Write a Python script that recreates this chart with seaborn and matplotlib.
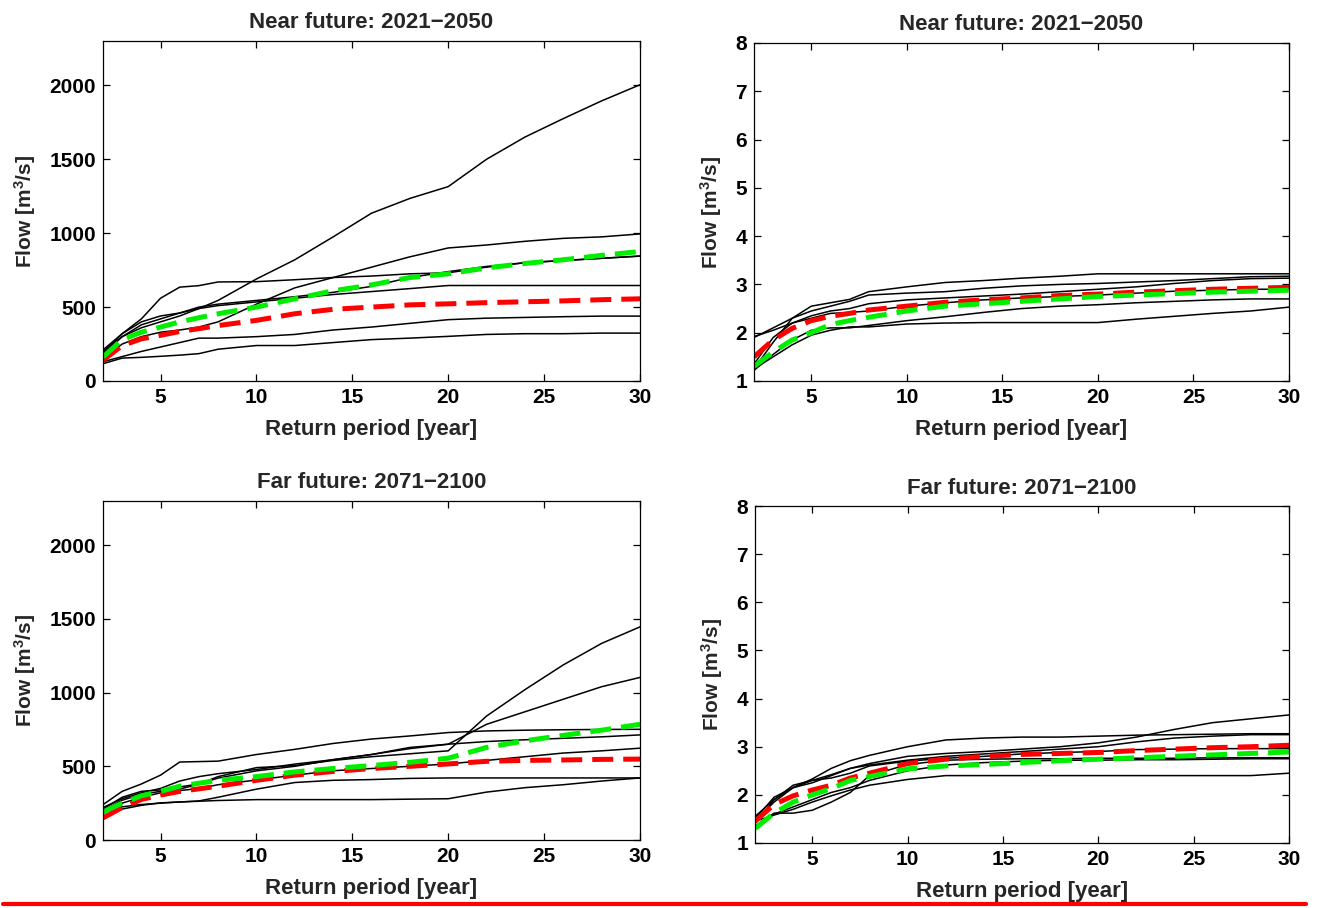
import numpy as np
import pandas as pd
import matplotlib
matplotlib.use("Agg")
import matplotlib.pyplot as plt
from matplotlib import font_manager
from matplotlib.lines import Line2D
import seaborn as sns

sns.set_theme(style="white")
_names = {f.name for f in font_manager.fontManager.ttflist}
_fam = "Liberation Sans Narrow" if "Liberation Sans Narrow" in _names else "Liberation Sans"
plt.rcParams["font.family"] = [_fam, "DejaVu Sans"]
plt.rcParams["mathtext.fontset"] = "custom"
plt.rcParams["mathtext.rm"] = _fam + ":bold"
plt.rcParams["mathtext.default"] = "rm"

# ---------------- data ----------------
return_period = [2, 3, 4, 5, 6, 7, 8, 10, 12, 14, 16, 18, 20, 22, 24, 26, 28, 30]

titles = ["Near future: 2021\u22122050", "Near future: 2021\u22122050",
          "Far future: 2071\u22122100", "Far future: 2071\u22122100"]
xlabel = "Return period [year]"
ylabel = "Flow [m$^3$/s]"

# Panel 1: near future, large catchment
near_large_members = [
    [200, 300, 360, 400, 440, 490, 545, 690, 820, 975, 1135, 1235, 1315, 1500, 1650, 1775, 1895, 2004],
    [150, 250, 300, 330, 345, 365, 400, 520, 630, 700, 770, 840, 900, 920, 945, 965, 975, 995],
    [210, 320, 420, 560, 635, 645, 670, 672, 685, 700, 710, 725, 732, 770, 800, 815, 830, 845],
    [190, 320, 400, 440, 460, 500, 520, 545, 570, 600, 640, 700, 740, 775, 800, 815, 830, 845],
    [180, 300, 380, 420, 460, 490, 510, 535, 560, 585, 605, 625, 646, 646, 646, 646, 646, 646],
    [130, 165, 200, 230, 260, 290, 290, 300, 315, 345, 365, 390, 415, 425, 430, 435, 439, 439],
    [117, 155, 160, 167, 175, 185, 215, 240, 240, 260, 280, 290, 302, 315, 320, 320, 324, 324],
]
near_large_red = [140, 240, 285, 309, 335, 354, 375, 410, 455, 485, 500, 515, 522, 530, 536, 542, 550, 556]
near_large_green = [162, 280, 330, 365, 400, 428, 455, 500, 556, 610, 650, 700, 725, 765, 795, 820, 850, 876]

# Panel 2: near future, small catchment
near_small_members = [
    [1.25, 1.80, 2.30, 2.55, 2.62, 2.69, 2.85, 2.95, 3.04, 3.08, 3.13, 3.17, 3.22, 3.22, 3.22, 3.22, 3.22, 3.22],
    [1.90, 2.10, 2.30, 2.45, 2.55, 2.65, 2.78, 2.82, 2.85, 2.92, 2.97, 3.00, 3.02, 3.05, 3.08, 3.12, 3.16, 3.17],
    [1.92, 2.05, 2.20, 2.35, 2.45, 2.50, 2.60, 2.68, 2.72, 2.76, 2.80, 2.85, 2.90, 2.95, 3.02, 3.08, 3.12, 3.13],
    [1.35, 1.90, 2.20, 2.30, 2.40, 2.42, 2.45, 2.55, 2.62, 2.68, 2.72, 2.75, 2.78, 2.82, 2.86, 2.88, 2.90, 2.90],
    [1.22, 1.55, 1.85, 2.05, 2.10, 2.10, 2.15, 2.25, 2.33, 2.42, 2.50, 2.55, 2.58, 2.62, 2.65, 2.68, 2.70, 2.70],
    [1.25, 1.50, 1.75, 1.95, 2.05, 2.12, 2.12, 2.18, 2.20, 2.21, 2.21, 2.21, 2.21, 2.28, 2.34, 2.40, 2.45, 2.53],
]
near_small_red = [1.50, 1.85, 2.09, 2.25, 2.34, 2.40, 2.47, 2.55, 2.63, 2.68, 2.72, 2.77, 2.80, 2.84, 2.87, 2.90, 2.92, 2.94]
near_small_green = [1.30, 1.60, 1.85, 2.00, 2.17, 2.25, 2.32, 2.45, 2.55, 2.60, 2.65, 2.70, 2.75, 2.78, 2.81, 2.84, 2.86, 2.88]

# Panel 3: far future, large catchment
far_large_members = [
    [210, 290, 330, 340, 345, 380, 430, 491, 505, 540, 565, 585, 605, 841, 1020, 1188, 1334, 1446],
    [220, 280, 320, 350, 400, 430, 450, 478, 515, 545, 580, 628, 650, 785, 870, 955, 1040, 1103],
    [240, 330, 380, 440, 529, 532, 535, 580, 615, 655, 685, 706, 729, 740, 745, 748, 750, 751],
    [200, 270, 310, 330, 360, 380, 420, 469, 500, 545, 580, 620, 650, 668, 680, 690, 700, 713],
    [180, 250, 290, 320, 335, 350, 375, 407, 440, 470, 485, 500, 516, 540, 565, 590, 605, 623],
    [160, 210, 235, 252, 258, 265, 290, 345, 390, 405, 410, 418, 421, 421, 421, 421, 421, 421],
    [190, 225, 241, 250, 258, 263, 268, 274, 274, 274, 274, 277, 280, 325, 355, 375, 400, 421],
]
far_large_red = [150, 220, 275, 305, 330, 347, 365, 405, 440, 465, 485, 500, 516, 534, 540, 543, 547, 549]
far_large_green = [190, 250, 300, 330, 365, 385, 405, 430, 462, 485, 505, 527, 555, 628, 673, 710, 745, 785]

# Panel 4: far future, small catchment
far_small_members = [
    [1.50, 1.95, 2.15, 2.33, 2.55, 2.71, 2.82, 3.00, 3.14, 3.18, 3.20, 3.20, 3.22, 3.24, 3.25, 3.26, 3.27, 3.27],
    [1.55, 1.90, 2.15, 2.25, 2.40, 2.55, 2.65, 2.80, 2.86, 2.90, 2.95, 3.00, 3.08, 3.20, 3.36, 3.50, 3.58, 3.66],
    [1.45, 1.85, 2.15, 2.30, 2.42, 2.55, 2.62, 2.72, 2.80, 2.85, 2.90, 2.95, 3.00, 3.10, 3.18, 3.22, 3.25, 3.25],
    [1.40, 1.90, 2.20, 2.30, 2.35, 2.45, 2.60, 2.70, 2.76, 2.80, 2.85, 2.88, 2.90, 2.94, 2.95, 2.96, 2.96, 2.96],
    [1.35, 1.62, 1.62, 1.68, 1.85, 2.05, 2.40, 2.63, 2.72, 2.74, 2.75, 2.75, 2.76, 2.76, 2.76, 2.77, 2.77, 2.77],
    [1.30, 1.60, 1.75, 1.90, 2.05, 2.15, 2.30, 2.50, 2.62, 2.67, 2.70, 2.72, 2.72, 2.73, 2.73, 2.74, 2.75, 2.75],
    [1.45, 1.58, 1.70, 1.85, 1.98, 2.10, 2.20, 2.32, 2.40, 2.40, 2.40, 2.40, 2.40, 2.40, 2.40, 2.40, 2.40, 2.45],
]
far_small_red = [1.45, 1.80, 1.98, 2.10, 2.20, 2.35, 2.45, 2.65, 2.74, 2.80, 2.84, 2.86, 2.88, 2.92, 2.95, 2.98, 3.00, 3.03]
far_small_green = [1.30, 1.62, 1.85, 2.00, 2.13, 2.30, 2.38, 2.54, 2.60, 2.63, 2.67, 2.71, 2.74, 2.77, 2.80, 2.83, 2.86, 2.89]

large_yticks = [0, 500, 1000, 1500, 2000]
small_yticks = [1, 2, 3, 4, 5, 6, 7, 8]
xticks = [5, 10, 15, 20, 25, 30]

# ---------------- figure ----------------
fig = plt.figure(figsize=(13.17, 9.08), dpi=100)
W, H = 1317, 908
boxes = [(103, 41, 640, 381), (754, 43, 1289, 381), (103, 501, 640, 840), (755, 506, 1289, 843)]
axes = [fig.add_axes([l / W, 1 - b / H, (r - l) / W, (b - t) / H]) for (l, t, r, b) in boxes]

panels = [
    (near_large_members, near_large_red, near_large_green, (0, 2300), large_yticks),
    (near_small_members, near_small_red, near_small_green, (1, 8), small_yticks),
    (far_large_members, far_large_red, far_large_green, (0, 2300), large_yticks),
    (far_small_members, far_small_red, far_small_green, (1, 8), small_yticks),
]

FS = 15
for ax, (members, red, green, ylim, yticks), title in zip(axes, panels, titles):
    for m in members:
        sns.lineplot(x=return_period, y=m, ax=ax, color="black", lw=1.1, legend=False)
    sns.lineplot(x=return_period, y=red, ax=ax, color="#ff0000", lw=3.6, legend=False,
                 dashes=False).lines[-1].set_dashes((4.2, 2.0))
    sns.lineplot(x=return_period, y=green, ax=ax, color="#00ee00", lw=3.6, legend=False,
                 dashes=False).lines[-1].set_dashes((4.2, 2.0))
    ax.set_xlim(2, 30)
    ax.set_ylim(*ylim)
    ax.set_xticks(xticks)
    ax.set_yticks(yticks)
    ax.set_xticklabels([str(v) for v in xticks], fontsize=FS, fontweight="bold")
    ax.set_yticklabels([str(v) for v in yticks], fontsize=FS, fontweight="bold")
    ax.tick_params(direction="in", length=5, width=0.9, top=True, right=True,
                   bottom=True, left=True, pad=5, colors="black")
    for s in ax.spines.values():
        s.set_visible(True)
        s.set_color("black")
        s.set_linewidth(0.9)
    ax.set_xlabel(xlabel, fontsize=16, fontweight="bold", labelpad=9)
    ax.set_ylabel(ylabel, fontsize=FS, fontweight="bold", labelpad=8)
    ax.set_title(title, fontsize=16, fontweight="bold", pad=9)
    ax.set_facecolor("white")

fig.add_artist(Line2D([3 / W, 1306 / W], [1 - 904 / H, 1 - 904 / H], color="#ff0000", lw=3.0))

fig.savefig("out.png", dpi=100, facecolor="white")
